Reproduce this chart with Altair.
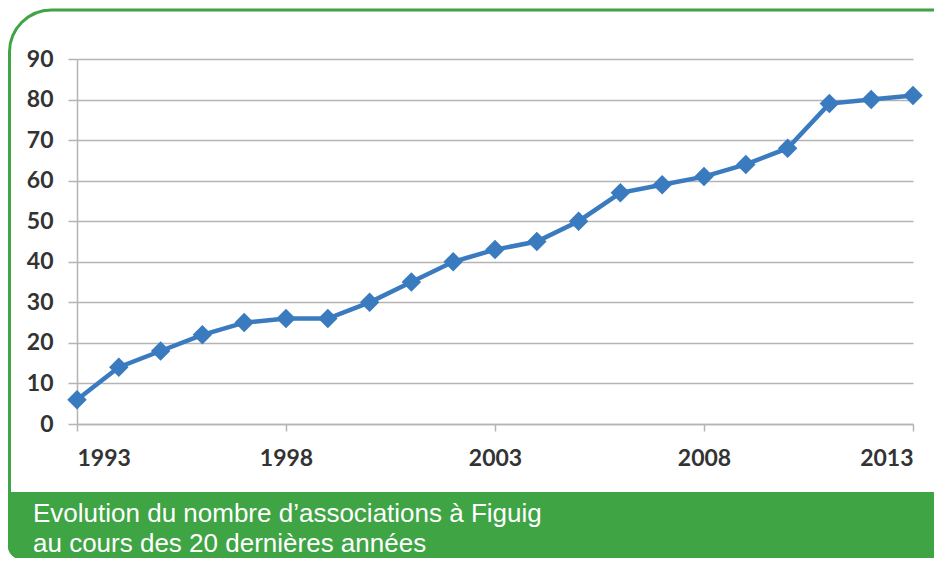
import altair as alt
import pandas as pd

years = list(range(1993, 2014))
associations = [6, 14, 18, 22, 25, 26, 26, 30, 35, 40, 43, 45, 50, 57, 59, 61, 64, 68, 79, 80, 81]
x_ticks = [1993, 1998, 2003, 2008, 2013]
y_ticks = [0, 10, 20, 30, 40, 50, 60, 70, 80, 90]
caption_lines = ["Evolution du nombre d’associations à Figuig",
                 "au cours des 20 dernières années"]

GREEN = "#3ea444"
BLUE = "#3a7bc0"
GRID = "#b4b4b4"

df = pd.DataFrame({"year": years, "n": associations})

x_enc = alt.X("year:Q",
              scale=alt.Scale(domain=[1993, 2013], nice=False, zero=False),
              axis=alt.Axis(values=x_ticks, format="d", grid=False, title=None,
                            domainColor=GRID, domainWidth=1.5, tickColor=GRID,
                            tickWidth=1.5, tickSize=7, labelPadding=16,
                            labelFont="Lato", labelFontSize=23, labelFontWeight="bold",
                            labelColor="#333333"))
y_enc = alt.Y("n:Q",
              scale=alt.Scale(domain=[0, 90], nice=False),
              axis=alt.Axis(values=y_ticks, grid=True, gridColor=GRID, gridWidth=1.5,
                            title=None, domainColor=GRID, domainWidth=1.5,
                            tickColor=GRID, tickWidth=1.5, tickSize=9, labelPadding=15,
                            labelFont="Lato", labelFontSize=23, labelFontWeight="bold",
                            labelColor="#333333"))

frame = alt.Chart(alt.Data(values=[{}])).mark_rect(
    fillOpacity=0, stroke=GREEN, strokeWidth=3,
    cornerRadiusTopLeft=42, cornerRadiusBottomLeft=12
).encode(x=alt.value(-67.5), x2=alt.value(900), y=alt.value(-49), y2=alt.value(499))

band = alt.Chart(alt.Data(values=[{}])).mark_rect(
    fill=GREEN, cornerRadiusBottomLeft=12
).encode(x=alt.value(-69), x2=alt.value(900), y=alt.value(433), y2=alt.value(499))

caption = alt.Chart(alt.Data(values=[{"t": "\n".join(caption_lines)}])).mark_text(
    align="left", baseline="alphabetic", color="white", fontSize=26,
    font="Liberation Sans", lineBreak="\n", lineHeight=30
).encode(x=alt.value(-44), y=alt.value(463), text="t:N")

line = alt.Chart(df).mark_line(color=BLUE, strokeWidth=4.5).encode(x=x_enc, y=y_enc)
points = alt.Chart(df).mark_point(shape="diamond", filled=True, size=380,
                                  color=BLUE, opacity=1).encode(x=x_enc, y=y_enc)

chart = alt.layer(frame, band, caption, line, points).properties(
    width=836, height=365,
    padding={"left": 69, "top": 51, "right": 21, "bottom": 134},
    autosize=alt.AutoSizeParams(type="none"),
    background="white"
).configure_view(strokeWidth=0)

chart.save("out.html", embed_options={"renderer": "svg", "actions": False})
